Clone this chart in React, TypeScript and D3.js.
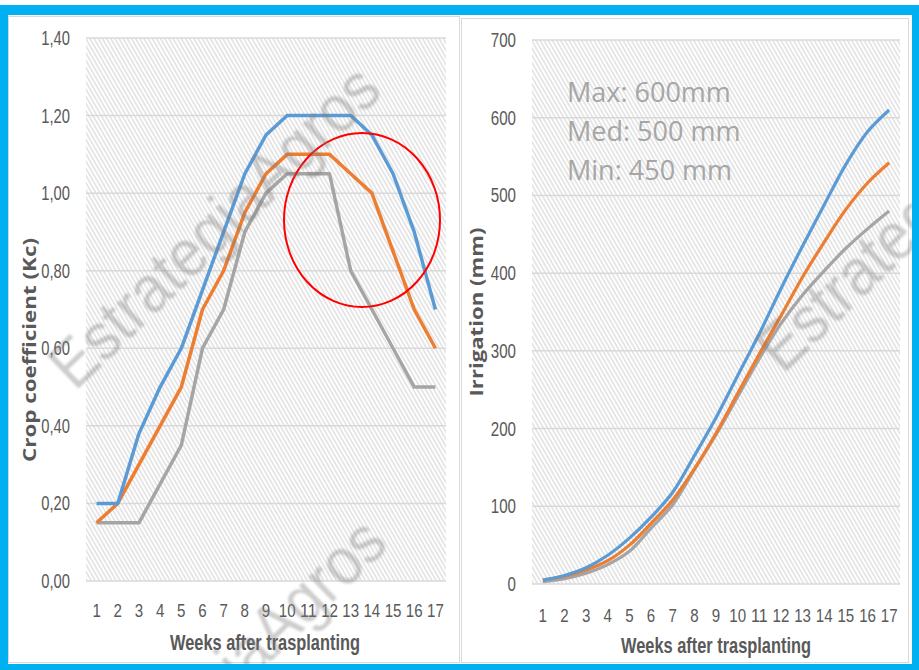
import React, { useEffect, useRef } from 'react';
import * as d3 from 'd3';

const weeks = ['1', '2', '3', '4', '5', '6', '7', '8', '9', '10', '11', '12', '13', '14', '15', '16', '17'];

// Crop coefficient (Kc) per week
const kcMax = [0.2, 0.2, 0.38, 0.5, 0.6, 0.75, 0.9, 1.05, 1.15, 1.2, 1.2, 1.2, 1.2, 1.15, 1.05, 0.9, 0.7];
const kcMed = [0.15, 0.2, 0.3, 0.4, 0.5, 0.7, 0.8, 0.95, 1.05, 1.1, 1.1, 1.1, 1.05, 1.0, 0.85, 0.7, 0.6];
const kcMin = [0.15, 0.15, 0.15, 0.25, 0.35, 0.6, 0.7, 0.9, 1.0, 1.05, 1.05, 1.05, 0.8, 0.7, 0.6, 0.5, 0.5];

// Accumulated irrigation (mm)
const irrMax = [5, 11, 21, 37, 59, 86, 118, 165, 214, 268, 322, 380, 435, 488, 540, 582, 610];
const irrMed = [5, 10, 18, 30, 50, 78, 108, 148, 194, 245, 296, 345, 395, 440, 482, 516, 542];
const irrMin = [3, 7, 14, 25, 42, 72, 102, 147, 192, 241, 290, 335, 372, 403, 432, 457, 480];

const kcTicks = [0, 0.2, 0.4, 0.6, 0.8, 1.0, 1.2, 1.4];
const irrTicks = [0, 100, 200, 300, 400, 500, 600, 700];
const notes = ['Max: 600mm', 'Med: 500 mm', 'Min: 450 mm'];

const colors = ['#5b9bd5', '#ed7d31', '#a5a5a5'];
const narrow = "'Liberation Sans Narrow', 'Liberation Sans', Arial, sans-serif";
const textGray = '#595959';

// condensed look without a condensed font: squeeze labels to a fixed width
const labelWidth = (s: string) => s.split('').reduce((w, c) => w + (c === ',' ? 3.5 : 8.4), 0);

const CropCharts = () => {
  const svgRef = useRef<SVGSVGElement>(null);

  useEffect(() => {
    if (!svgRef.current) return;
    const svg = d3.select(svgRef.current);
    svg.selectAll('*').remove();

    const defs = svg.append('defs');
    defs.append('pattern')
      .attr('id', 'hatch')
      .attr('patternUnits', 'userSpaceOnUse')
      .attr('width', 3.6)
      .attr('height', 10)
      .attr('patternTransform', 'rotate(-30)')
      .append('line')
      .attr('x1', 1).attr('y1', 0).attr('x2', 1).attr('y2', 10)
      .attr('stroke', '#d0d0d0')
      .attr('stroke-width', 1);
    defs.append('filter').attr('id', 'soft')
      .append('feGaussianBlur').attr('stdDeviation', 1.3);
    defs.append('clipPath').attr('id', 'inner')
      .append('rect').attr('x', 8).attr('y', 15).attr('width', 904).attr('height', 649);

    svg.append('rect').attr('width', 919).attr('height', 670).attr('fill', '#fff');

    // panels
    svg.append('rect').attr('x', 8.5).attr('y', 16.5).attr('width', 451).attr('height', 646)
      .attr('fill', '#fff').attr('stroke', '#d9d9d9');
    svg.append('rect').attr('x', 461.5).attr('y', 18.5).attr('width', 447).attr('height', 644)
      .attr('fill', '#fff').attr('stroke', '#d9d9d9');

    const drawPanel = (opts: {
      x0: number; x1: number; y0: number; y1: number; max: number; ticks: number[];
      fmt: (v: number) => string; series: number[][]; curve: d3.CurveFactory; lw: number;
      labelRight: number; xLabelY: number; titleX: number; titleY: number;
      yTitle: string; yTitleX: number; yTitleY: number; yTitleLen: number;
    }) => {
      const x = d3.scaleBand<string>().domain(weeks).range([opts.x0, opts.x1]);
      const y = d3.scaleLinear().domain([0, opts.max]).range([opts.y1, opts.y0]);
      const g = svg.append('g');

      g.append('rect')
        .attr('x', opts.x0).attr('y', opts.y0)
        .attr('width', opts.x1 - opts.x0).attr('height', opts.y1 - opts.y0)
        .attr('fill', 'url(#hatch)');

      g.selectAll('line.grid').data(opts.ticks).enter().append('line')
        .attr('class', 'grid')
        .attr('x1', opts.x0).attr('x2', opts.x1)
        .attr('y1', d => y(d)).attr('y2', d => y(d))
        .attr('stroke', '#d9d9d9').attr('stroke-width', 1.5);

      g.selectAll('text.yt').data(opts.ticks).enter().append('text')
        .attr('class', 'yt')
        .attr('x', opts.labelRight).attr('y', d => y(d))
        .attr('dy', '0.35em')
        .attr('text-anchor', 'end')
        .attr('font-family', narrow).attr('font-size', 20)
        .attr('fill', textGray)
        .attr('textLength', d => labelWidth(opts.fmt(d)))
        .attr('lengthAdjust', 'spacingAndGlyphs')
        .text(d => opts.fmt(d));

      g.selectAll('text.xt').data(weeks).enter().append('text')
        .attr('class', 'xt')
        .attr('x', d => (x(d) as number) + x.bandwidth() / 2)
        .attr('y', opts.xLabelY)
        .attr('text-anchor', 'middle')
        .attr('font-family', narrow).attr('font-size', 19)
        .attr('fill', textGray)
        .attr('textLength', d => labelWidth(d))
        .attr('lengthAdjust', 'spacingAndGlyphs')
        .text(d => d);

      g.append('text')
        .attr('x', opts.titleX).attr('y', opts.titleY)
        .attr('text-anchor', 'middle')
        .attr('font-family', narrow).attr('font-size', 22).attr('font-weight', 'bold')
        .attr('fill', textGray)
        .attr('textLength', 190).attr('lengthAdjust', 'spacingAndGlyphs')
        .text('Weeks after trasplanting');

      g.append('text')
        .attr('transform', `translate(${opts.yTitleX},${opts.yTitleY}) rotate(-90)`)
        .attr('text-anchor', 'middle')
        .attr('dy', '0.35em')
        .attr('font-family', "'Open Sans', sans-serif").attr('font-size', 17).attr('font-weight', 'bold')
        .attr('fill', textGray)
        .attr('textLength', opts.yTitleLen).attr('lengthAdjust', 'spacingAndGlyphs')
        .text(opts.yTitle);

      const line = d3.line<number>()
        .x((_, i) => (x(weeks[i]) as number) + x.bandwidth() / 2)
        .y(d => y(d))
        .curve(opts.curve);

      // draw gray first so blue sits on top
      [2, 1, 0].forEach(i => {
        g.append('path')
          .attr('d', line(opts.series[i]) as string)
          .attr('fill', 'none')
          .attr('stroke', colors[i])
          .attr('stroke-width', opts.lw)
          .attr('stroke-linejoin', 'round');
      });
    };

    drawPanel({
      x0: 86, x1: 446, y0: 38, y1: 581, max: 1.4, ticks: kcTicks,
      fmt: v => d3.format('.2f')(v).replace('.', ','),
      series: [kcMax, kcMed, kcMin], curve: d3.curveLinear, lw: 3.5,
      labelRight: 70, xLabelY: 617, titleX: 265, titleY: 650,
      yTitle: 'Crop coefficient (Kc)', yTitleX: 30, yTitleY: 350, yTitleLen: 224,
    });

    drawPanel({
      x0: 532, x1: 900, y0: 40, y1: 584, max: 700, ticks: irrTicks,
      fmt: v => String(v),
      series: [irrMax, irrMed, irrMin], curve: d3.curveCatmullRom, lw: 3.2,
      labelRight: 516, xLabelY: 622, titleX: 716, titleY: 653,
      yTitle: 'Irrigation (mm)', yTitleX: 477, yTitleY: 312, yTitleLen: 169,
    });

    // notes on the irrigation chart
    svg.selectAll('text.note').data(notes).enter().append('text')
      .attr('class', 'note')
      .attr('x', 567).attr('y', (_, i) => 102 + i * 39)
      .attr('font-family', "'Open Sans', sans-serif").attr('font-size', 27)
      .attr('fill', '#a6a6a6')
      .text(d => d);

    // red highlight ellipse
    svg.append('ellipse')
      .attr('cx', 362).attr('cy', 220).attr('rx', 78).attr('ry', 87)
      .attr('fill', 'none').attr('stroke', '#ff0000').attr('stroke-width', 2);

    // watermark
    const wm = svg.append('g').attr('clip-path', 'url(#inner)').attr('filter', 'url(#soft)');
    [[75, 392], [81, 845], [783, 375]].forEach(([wx, wy]) => {
      wm.append('text')
        .attr('transform', `translate(${wx},${wy}) rotate(-44)`)
        .attr('font-family', narrow).attr('font-size', 66)
        .attr('fill', '#7f7f7f').attr('opacity', 0.38)
        .attr('textLength', 430).attr('lengthAdjust', 'spacingAndGlyphs')
        .text('EstrategiaAgros');
    });

    // blue frame
    svg.append('path')
      .attr('d', 'M0,5H919V670H0Z M8,15V664H912V15Z')
      .attr('fill', '#00b0f0')
      .attr('fill-rule', 'evenodd');
  }, []);

  return (
    <div style={{ position: 'absolute', left: 0, top: 0 }}>
      <svg ref={svgRef} width={919} height={670} viewBox="0 0 919 670" style={{ display: 'block' }} />
    </div>
  );
};

export default function App() {
  return <CropCharts />;
}
